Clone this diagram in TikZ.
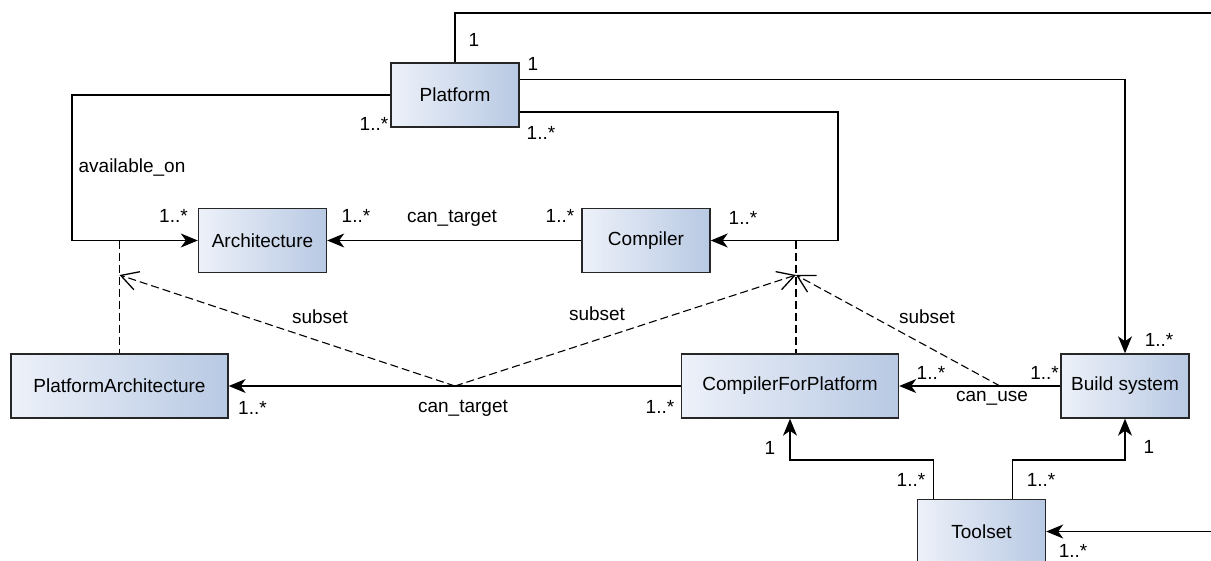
\documentclass[tikz,border=0pt]{standalone}
\usepackage{fontspec}
\setmainfont{Liberation Sans}
\usetikzlibrary{positioning,arrows.meta,calc}
\definecolor{boxlight}{RGB}{237,241,249}
\definecolor{boxdark}{RGB}{184,201,227}

\begin{document}
\begin{tikzpicture}[
  x=1pt, y=-1pt,
  font=\fontsize{19pt}{22pt}\selectfont,
  cls/.style={draw=black!85, line width=1.4pt, left color=boxlight,
              right color=boxdark, minimum width=128pt, minimum height=64pt,
              inner sep=0pt},
  widecls/.style={cls, minimum width=217pt},
  conn/.style={line width=1.3pt},
  assoc/.style={conn, -{Stealth[length=17pt, width=14pt, inset=5pt]}},
  subsetline/.style={line width=1.1pt, dash pattern=on 8pt off 4pt},
  subsetarr/.style={subsetline, -{Straight Barb[length=17pt, width=19pt, line width=1.3pt]}},
  lbl/.style={inner sep=0pt},
]
\useasboundingbox (0,0) rectangle (1211,560);
\clip (0,0) rectangle (1211,560);

% classes
\node[cls] (platform) at (455,95) {Platform};
\node[cls] (arch) at (262.5,240.5) {Architecture};
\node[cls] (compiler) at (646,240.5) {Compiler};
\node[widecls] (platarch) at (119.5,386) {PlatformArchitecture};
\node[widecls] (cfp) at (790,386) {CompilerForPlatform};
\node[cls] (build) at (1125,386) {Build system};
\node[cls] (toolset) at (981.5,531.5) {Toolset};

% bends and junctions
\coordinate (offtop) at (1260,13);
\coordinate (aleft) at (72,240.5);
\coordinate (cright) at (838,240.5);
\coordinate (pajoin) at (119.5,240.5);
\coordinate (patip) at (119.5,275);
\coordinate (cfjoin) at (796,240.5);
\coordinate (cftip) at (796,275);
\coordinate (ctmid) at (455,386);
\coordinate (cumid) at (1000,386);
\coordinate (tjoin) at (790,460);
\coordinate (bjoin) at (1125,460);

% associations
\draw[assoc] (platform.north) |- (offtop) |- (toolset.east);
\draw[assoc] ([yshift=15.5pt]platform.east) -| (build.north);
\draw[assoc] ([yshift=-17pt]platform.east) -| (cright) -- (compiler.east);
\draw[assoc] (platform.west) -| (aleft) -- (arch.west);
\draw[assoc] (compiler.west) -- (arch.east);
\draw[assoc] (cfp.west) -- (platarch.east);
\draw[assoc] (build.west) -- (cfp.east);
\draw[assoc] ([xshift=-48pt]toolset.north) |- (tjoin) -- (cfp.south);
\draw[assoc] ([xshift=31pt]toolset.north) |- (bjoin) -- (build.south);

% subsets
\draw[subsetline] (pajoin) -- (platarch.north);
\draw[subsetline] (cfjoin) -- (cfjoin |- cfp.north);
\draw[subsetarr] (ctmid) -- (patip);
\draw[subsetarr] (ctmid) -- (cftip);
\draw[subsetarr] (cumid) -- (cftip);

% labels
\node[lbl] (m1) at (474,40) {1};
\node[lbl] (m2) at (533,64) {1};
\node[lbl] (m3) at (374,124) {1..*};
\node[lbl] (m4) at (541,133) {1..*};
\node[lbl] (avail) at (132,168) {available\_on};
\node[lbl] (m5) at (173.5,216) {1..*};
\node[lbl] (m6) at (356,216) {1..*};
\node[lbl] (ct1) at (452,218) {can\_target};
\node[lbl] (m7) at (560,216) {1..*};
\node[lbl] (m8) at (743,218) {1..*};
\node[lbl] (s1) at (320,317) {subset};
\node[lbl] (s2) at (597,314) {subset};
\node[lbl] (s3) at (927,317) {subset};
\node[lbl] (m9) at (1159,340) {1..*};
\node[lbl] (m10) at (252.5,408) {1..*};
\node[lbl] (ct2) at (463,408) {can\_target};
\node[lbl] (m11) at (660,407) {1..*};
\node[lbl] (m12) at (931,373) {1..*};
\node[lbl] (m13) at (1044.5,373) {1..*};
\node[lbl] (cu) at (992,398) {can\_use};
\node[lbl] (m14) at (770,448) {1};
\node[lbl] (m15) at (1149,447) {1};
\node[lbl] (m16) at (911,480) {1..*};
\node[lbl] (m17) at (1041,480) {1..*};
\node[lbl] (m18) at (1073,551) {1..*};
\end{tikzpicture}
\end{document}
